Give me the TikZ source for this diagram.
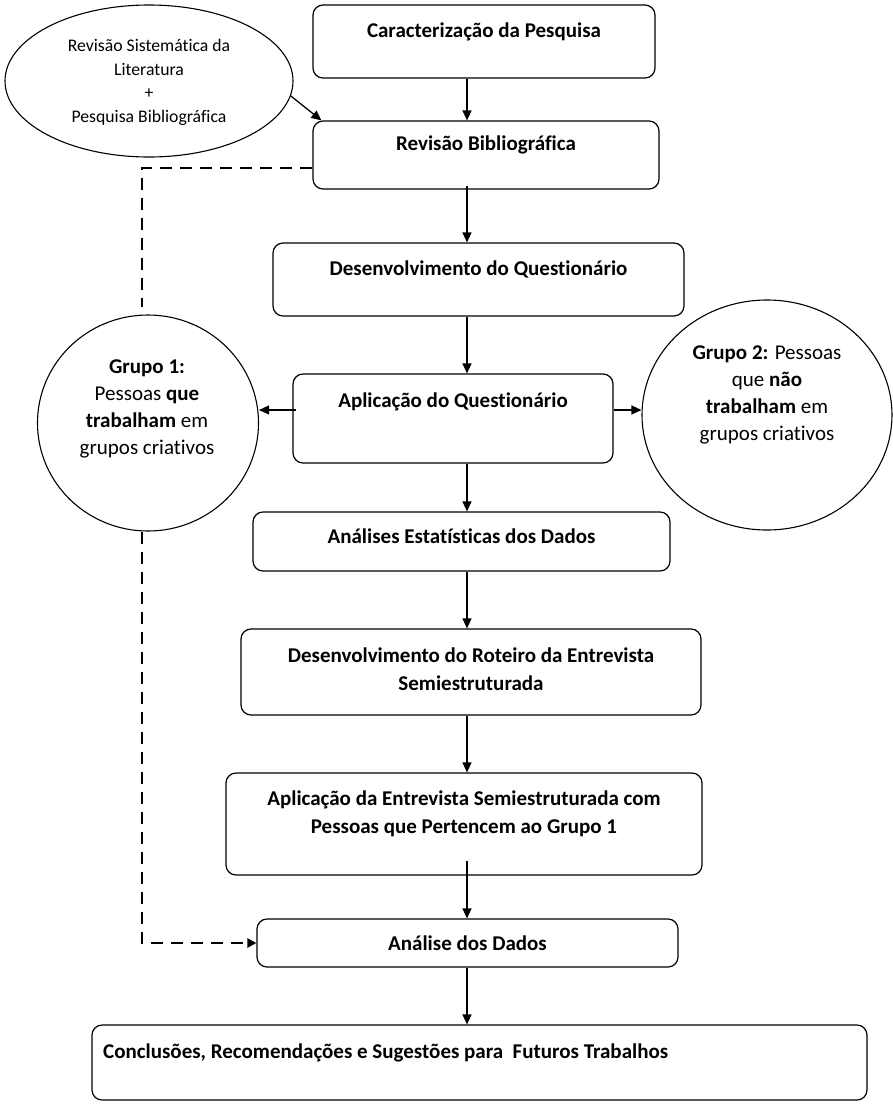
\documentclass[tikz,border=0pt]{standalone}
\usepackage{fontspec}
\setmainfont{Carlito}[Ligatures=NoCommon]
\usetikzlibrary{arrows.meta,shapes.geometric,calc}

\begin{document}
\begin{tikzpicture}[x=1pt,y=-1pt,
  box/.style={draw, rounded corners=10pt, line width=1.2pt, inner sep=0pt},
  oval/.style={draw, ellipse, line width=1.1pt, inner sep=0pt},
  btxt/.style={font=\bfseries\fontsize{21}{28}\selectfont, align=center, inner sep=0pt},
  ctxt/.style={font=\fontsize{21}{27}\selectfont, align=center, inner sep=0pt},
  etxt/.style={font=\fontsize{17.7}{23.7}\selectfont, align=center, inner sep=0pt},
  flow/.style={-{Triangle[length=10pt,width=9pt]}, line width=1.3pt},
  back/.style={dash pattern=on 12pt off 8pt, line width=2.6pt},
]
\useasboundingbox (0,0) rectangle (893,1104);

% guide coordinates for the main spine and the side links
\coordinate (spine) at (467,0);
\coordinate (side) at (0,410);
\coordinate (loop) at (142,0);
\coordinate (upper) at (0,168);

% process boxes
\node[box, minimum width=342pt, minimum height=73pt] (carac) at (484,41.5) {};
\node[btxt] (caractxt) at (484,32) {Caracterização da Pesquisa};

\node[box, minimum width=346pt, minimum height=68pt] (revbib) at (486,155) {};
\node[btxt] (revbibtxt) at (486,145) {Revisão Bibliográfica};

\node[box, minimum width=411pt, minimum height=73pt] (desq) at (478.5,279.5) {};
\node[btxt] (desqtxt) at (478.5,269) {Desenvolvimento do Questionário};

\node[box, minimum width=320pt, minimum height=89pt] (aplq) at (453,418.5) {};
\node[btxt] (aplqtxt) at (453,402) {Aplicação do Questionário};

\node[box, minimum width=417pt, minimum height=59pt] (anest) at (461.5,541.5) {};
\node[btxt] (anesttxt) at (461.5,536) {Análises Estatísticas dos Dados};

\node[box, minimum width=460pt, minimum height=86pt] (rot) at (471,672) {};
\node[btxt] (rottxt) at (471,669) {Desenvolvimento do Roteiro da Entrevista\\Semiestruturada};

\node[box, minimum width=476pt, minimum height=102pt] (entrev) at (464,824) {};
\node[btxt] (entrevtxt) at (464,814) {Aplicação da Entrevista Semiestruturada com\\Pessoas que Pertencem ao Grupo 1};

\node[box, minimum width=421pt, minimum height=48pt] (anadad) at (467.5,943) {};
\node[btxt] (anadadtxt) at (467.5,943) {Análise dos Dados};

\node[box, minimum width=775pt, minimum height=75pt] (concl) at (479.5,1062.5) {};
\node[btxt, anchor=west] (concltxt) at (103,1053) {Conclusões, Recomendações e Sugestões para \ Futuros Trabalhos};

% ovals
\node[oval, minimum width=288pt, minimum height=152pt] (sist) at (149,81) {};
\node[etxt] (sisttxt) at (149,82.5) {Revisão Sistemática da\\Literatura\\+\\Pesquisa Bibliográfica};

\node[oval, minimum width=221pt, minimum height=216pt] (g1) at (148,423) {};
\node[ctxt] (g1txt) at (147,409) {\textbf{Grupo 1:}\\Pessoas \textbf{que}\\\textbf{trabalham} em\\grupos criativos};

\node[oval, minimum width=250pt, minimum height=230pt] (g2) at (767,415) {};
\node[ctxt] (g2txt) at (767,395) {\textbf{Grupo 2:} Pessoas\\que \textbf{não}\\\textbf{trabalham} em\\grupos criativos};

% main flow
\draw[flow] (carac.south -| spine) -- (revbib.north -| spine);
\draw[flow] (sist.-6) -- ($(revbib.north west)+(9,0)$);
\draw[flow] ($(revbib.south -| spine)+(0,-4)$) -- (desq.north -| spine);
\draw[flow] (desq.south -| spine) -- (aplq.north -| spine);
\draw[flow] ($(aplq.west |- side)+(4,0)$) -- (g1.east |- side);
\draw[flow] (aplq.east |- side) -- (g2.west |- side);
\draw[flow] (aplq.south -| spine) -- (anest.north -| spine);
\draw[flow] (anest.south -| spine) -- (rot.north -| spine);
\draw[flow] (rot.south -| spine) -- (entrev.north -| spine);
\draw[flow] ($(entrev.south -| spine)+(0,-15)$) -- (anadad.north -| spine);
\draw[flow] (anadad.south -| spine) -- (concl.north -| spine);

% dashed feedback links through group 1
\draw[back] (revbib.west |- upper) -| ($(g1.north -| loop)+(0,-7)$);
\draw[back, -{Triangle[length=9pt,width=9pt]}] (g1.south -| loop) |- (anadad.west);

\end{tikzpicture}
\end{document}
